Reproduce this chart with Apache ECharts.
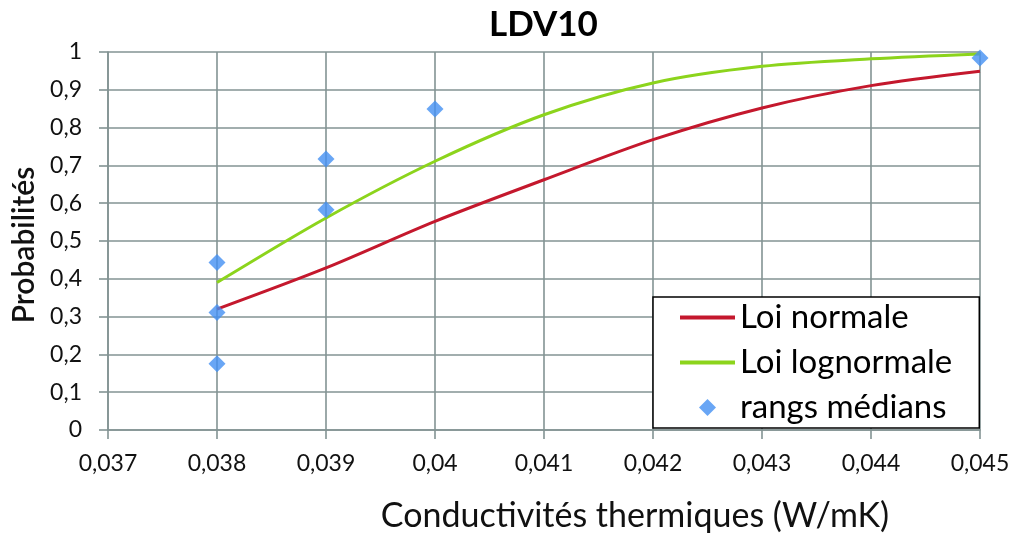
<!DOCTYPE html>
<html>
<head>
<meta charset="utf-8">
<script src="https://cdn.jsdelivr.net/npm/echarts@6/dist/echarts.min.js"></script>
<style>html,body{margin:0;padding:0;background:#fff}#c{width:1014px;height:535px}</style>
</head>
<body>
<div id="c"></div>
<script>
const titleText = 'LDV10';
const xAxisName = 'Conductivités thermiques (W/mK)';
const yAxisName = 'Probabilités';
const seriesNames = ['Loi normale', 'Loi lognormale', 'rangs médians'];
const curveX = [0.038, 0.039, 0.040, 0.041, 0.042, 0.043, 0.044, 0.045];
const normalY = [0.320, 0.429, 0.552, 0.662, 0.768, 0.852, 0.911, 0.949];
const lognormalY = [0.390, 0.561, 0.711, 0.834, 0.918, 0.962, 0.982, 0.995];
const rankX = [0.038, 0.038, 0.038, 0.039, 0.039, 0.040, 0.045];
const rankY = [0.175, 0.311, 0.443, 0.583, 0.717, 0.849, 0.984];
const xMin = 0.037, xMax = 0.045, xStep = 0.001;
const yMin = 0, yMax = 1, yStep = 0.1;

const pair = (xs, ys) => xs.map((x, i) => [x, ys[i]]);
const fmt = (v, d) => String(Number(v.toFixed(d))).replace('.', ',');
const gridColor = '#839393';
const font = 'Lato, "Open Sans", sans-serif';
const diamondIcon = 'path://M5,0 L10,5 L5,10 L0,5 Z';
const lineIcon = 'path://M0,0 L55,0 L55,4 L0,4 Z';

const chart = echarts.init(document.getElementById('c'), null, {renderer: 'canvas'});
chart.setOption({
  animation: false,
  backgroundColor: '#fff',
  title: {
    text: titleText, left: 484, top: 2,
    textStyle: {fontFamily: font, fontSize: 35, fontWeight: 'bold', color: '#000'}
  },
  grid: {left: 108, right: 34, top: 52, bottom: 105, containLabel: false, outerBoundsMode: 'none'},
  xAxis: {
    type: 'value', min: xMin, max: xMax, interval: xStep,
    name: xAxisName, nameLocation: 'middle', nameGap: 69,
    nameTextStyle: {fontFamily: font, fontSize: 34, color: '#111', padding: [0, 0, 0, 182]},
    axisLine: {show: true, lineStyle: {color: gridColor, width: 1.6}},
    axisTick: {show: true, length: 9, lineStyle: {color: gridColor, width: 1.6}},
    axisLabel: {fontFamily: font, fontSize: 23, color: '#111', margin: 22, formatter: v => fmt(v, 4)},
    splitLine: {show: true, lineStyle: {color: gridColor, width: 1.6}}
  },
  yAxis: {
    type: 'value', min: yMin, max: yMax, interval: yStep,
    name: yAxisName, nameLocation: 'middle', nameGap: 67, nameRotate: 90,
    nameTextStyle: {fontFamily: font, fontSize: 30, color: '#111', fontWeight: 600, padding: [0, 8, 0, 0]},
    axisLine: {show: true, lineStyle: {color: gridColor, width: 1.6}},
    axisTick: {show: true, length: 9, lineStyle: {color: gridColor, width: 1.6}},
    axisLabel: {fontFamily: font, fontSize: 23, color: '#111', margin: 26, formatter: v => fmt(v, 2)},
    splitLine: {show: true, lineStyle: {color: gridColor, width: 1.6}}
  },
  legend: {
    orient: 'vertical', left: 653, top: 297,
    padding: [0, 27, 0, 27], itemGap: 4,
    itemWidth: 55, itemHeight: 17,
    symbolKeepAspect: true,
    backgroundColor: '#fff', borderColor: '#000', borderWidth: 1.5, borderRadius: 0,
    textStyle: {fontFamily: font, fontSize: 33, color: '#000', lineHeight: 41},
    data: [
      {name: seriesNames[0], icon: lineIcon},
      {name: seriesNames[1], icon: lineIcon},
      {name: seriesNames[2], icon: diamondIcon}
    ]
  },
  series: [
    {
      name: seriesNames[0], type: 'line', data: pair(curveX, normalY),
      smooth: 0.3, symbol: 'none', z: 3,
      lineStyle: {color: '#c4182d', width: 3}, itemStyle: {color: '#c4182d'}
    },
    {
      name: seriesNames[1], type: 'line', data: pair(curveX, lognormalY),
      smooth: 0.3, symbol: 'none', z: 3,
      lineStyle: {color: '#8cd41c', width: 3}, itemStyle: {color: '#8cd41c'}
    },
    {
      name: seriesNames[2], type: 'scatter', data: pair(rankX, rankY),
      symbol: 'diamond', symbolSize: 17, z: 4,
      itemStyle: {color: '#4390f2'}
    }
  ]
});
</script>
</body>
</html>
